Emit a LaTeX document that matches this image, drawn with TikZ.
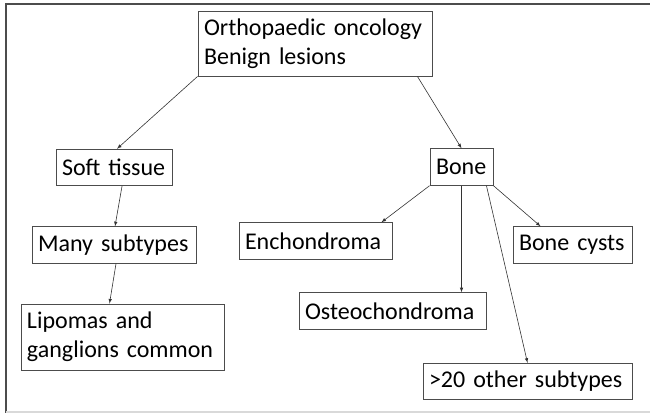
\documentclass[tikz,border=0pt]{standalone}
\usepackage{fontspec}
\setmainfont{Carlito}
\usepackage{tikz}
\usetikzlibrary{positioning,arrows,calc}

\begin{document}
\begin{tikzpicture}[
  x=1pt, y=-1pt,
  font=\fontsize{24}{29}\selectfont,
  box/.style={draw=black!70, line width=0.9pt, align=left, inner xsep=6pt, inner ysep=0pt, minimum height=36.5pt},
  link/.style={draw=black!80, line width=0.6pt, -latex}]
  \useasboundingbox (0,0) rectangle (650,414);
  % frame
  \draw[black!70, line width=2pt] (650,4) -- (6,4) -- (6,413);
  \draw[black!15, line width=1.2pt] (6,412) -- (650,412);

  \node[box, text width=222pt, minimum height=65pt] (main) at (315,43.5) {Orthopaedic oncology\\Benign lesions};
  \node[box, text width=104pt] (soft) at (114,167.5) {Soft tissue};
  \node[box, text width=51pt] (bone) at (461.5,167) {Bone};
  \node[box, text width=152pt] (many) at (114,245) {Many subtypes};
  \node[box, text width=191pt, minimum height=66pt] (lipomas) at (122.5,337) {Lipomas and\\ganglions common};
  \node[box, text width=141pt] (enchondroma) at (315.5,241) {Enchondroma};
  \node[box, text width=107pt] (cysts) at (572.5,245) {Bone cysts};
  \node[box, text width=175pt] (osteochondroma) at (392.5,311) {Osteochondroma};
  \node[box, text width=197pt] (other) at (527.5,381.5) {>20 other subtypes};

  \draw[link] (main.south west) -- ([xshift=3pt]soft.north);
  \draw[link] ([xshift=-15pt]main.south east) -- (bone.north);
  \draw[link] ([xshift=8pt]soft.south) -- ([xshift=1pt]many.north);
  \draw[link] ([xshift=2pt]many.south) -- ([xshift=-13pt]lipomas.north);
  \draw[link] (bone.south west) -- ([xshift=-11pt]enchondroma.north east);
  \draw[link] (bone.south) -- (bone.south |- osteochondroma.north);
  \draw[link] ([xshift=-7pt]bone.south east) -- (other.north);
  \draw[link] (bone.south east) -- ([xshift=28pt]cysts.north west);
\end{tikzpicture}
\end{document}
